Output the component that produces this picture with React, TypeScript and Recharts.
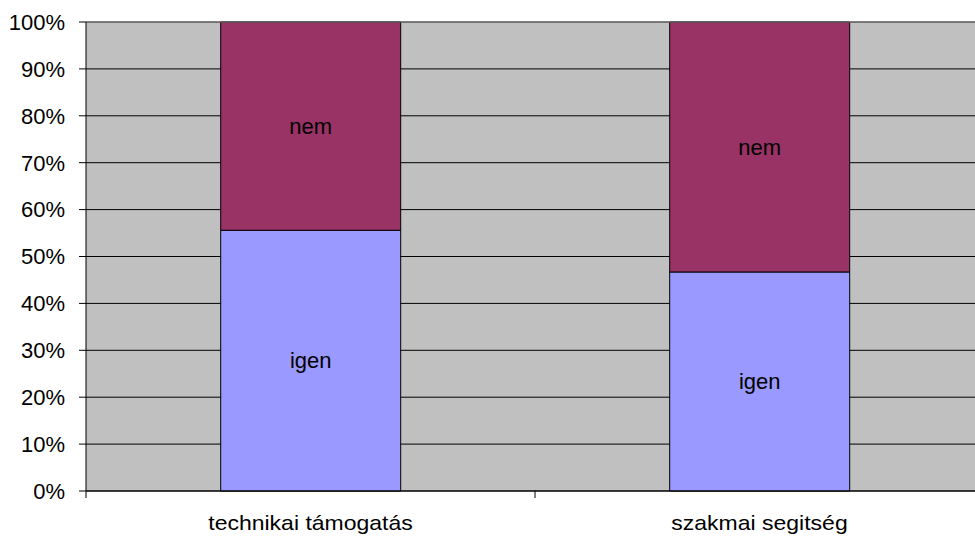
import React from 'react';
import { BarChart, Bar, XAxis, YAxis, CartesianGrid, LabelList, ReferenceLine } from 'recharts';

const categories = ['technikai támogatás', 'szakmai segitség'];
const igenValues = [55.6, 46.7];
const nemValues = [44.4, 53.3];
const seriesNames = ['igen', 'nem'];
const yTicks = [0, 10, 20, 30, 40, 50, 60, 70, 80, 90, 100];

const data = categories.map((c, i) => ({ name: c, igen: igenValues[i], nem: nemValues[i] }));

const FONT = '"Liberation Sans", Arial, sans-serif';

const CatTick = (props: any) => {
  const { x, y, payload, index, visibleTicksCount } = props;
  const off = payload && typeof payload.offset === 'number' ? payload.offset : 0;
  const axisY = 491;
  const isLast = index === (visibleTicksCount ?? categories.length) - 1;
  return (
    <g>
      <line x1={x - off} x2={x - off} y1={axisY} y2={axisY + 7} stroke="#000" strokeWidth={1} />
      {isLast && <line x1={x + off} x2={x + off} y1={axisY} y2={axisY + 7} stroke="#000" strokeWidth={1} />}
      <text
        transform={`translate(${x} ${y}) scale(1.15 1)`}
        x={0}
        y={0}
        dy="0.71em"
        textAnchor="middle"
        fill="#000"
        fontSize={20}
        fontFamily={FONT}
      >
        {payload.value}
      </text>
    </g>
  );
};

export default function App() {
  return (
    <div style={{ position: 'absolute', left: 0, top: 0, width: 975, height: 538, overflow: 'hidden', background: '#fff' }}>
      <BarChart
        width={1000}
        height={538}
        data={data}
        margin={{ top: 22, right: 16, left: 0, bottom: 0 }}
        barCategoryGap="30%"
      >
        <CartesianGrid vertical={false} stroke="#000" fill="#C0C0C0" fillOpacity={1} />
        <XAxis
          dataKey="name"
          height={47}
          axisLine={{ stroke: '#000' }}
          tickLine={false}
          tickSize={0}
          tickMargin={25}
          tick={<CatTick />}
          interval={0}
        />
        <YAxis
          width={86}
          domain={[0, 100]}
          ticks={yTicks}
          interval={0}
          tickFormatter={(v: number) => `${v}%`}
          axisLine={{ stroke: '#000' }}
          tickLine={{ stroke: '#000' }}
          tickSize={7}
          tickMargin={14}
          tick={{ fill: '#000', fontSize: 22, fontFamily: FONT }}
        />
        <ReferenceLine y={100} stroke="#808080" strokeWidth={1} />
        <Bar dataKey="igen" stackId="a" fill="#9999FF" stroke="#000" strokeWidth={1} isAnimationActive={false}>
          <LabelList position="center" formatter={() => seriesNames[0]} fill="#000" fontSize={22} fontFamily={FONT} />
        </Bar>
        <Bar dataKey="nem" stackId="a" fill="#993366" stroke="#000" strokeWidth={1} isAnimationActive={false}>
          <LabelList position="center" formatter={() => seriesNames[1]} fill="#000" fontSize={22} fontFamily={FONT} />
        </Bar>
      </BarChart>
    </div>
  );
}
